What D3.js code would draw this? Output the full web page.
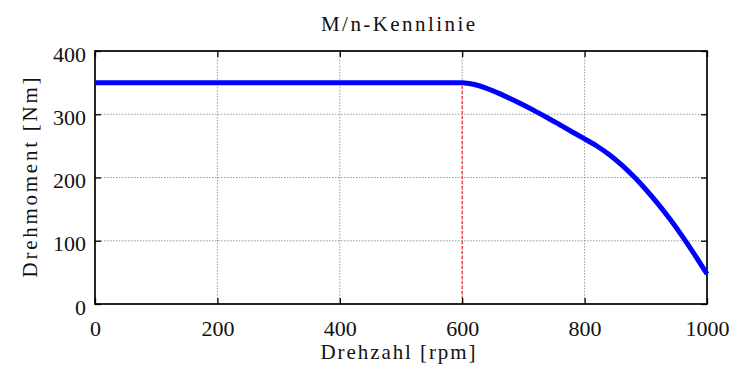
<!DOCTYPE html>
<html><head><meta charset="utf-8">
<script src="https://cdn.jsdelivr.net/npm/d3@7"></script>
<style>body{margin:0;background:#fff}</style>
</head><body>
<svg id="c" width="733" height="374"></svg>
<script>
const rpm    = [0, 600, 620, 640, 660, 680, 700, 720, 740, 760, 780, 800, 820, 840, 860, 880, 900, 920, 940, 960, 980, 1000];
const torque = [350, 350, 347, 341, 333, 324, 314.5, 304.5, 294, 283, 272, 261, 249.8, 236.2, 220.2, 201.8, 181, 158.2, 133.4, 106.6, 77.8, 47.4];
const xTicks = [0, 200, 400, 600, 800, 1000];
const yTicks = [0, 100, 200, 300, 400];
const cornerRpm = 600, cornerTorque = 350;
const title = "M/n-Kennlinie", xLabel = "Drehzahl [rpm]", yLabel = "Drehmoment [Nm]";

const FONT = "Liberation Serif, DejaVu Serif, serif";
const svg = d3.select("#c");
const L = 95, R = 707, T = 51, B = 304;
const x = d3.scaleLinear().domain([0, 1000]).range([L, R]);
const y = d3.scaleLinear().domain([0, 400]).range([B, T]);

// grid
svg.append("g").selectAll("line").data(xTicks.slice(1, -1)).join("line")
  .attr("x1", d => x(d)).attr("x2", d => x(d)).attr("y1", T).attr("y2", B)
  .attr("stroke", "#808080").attr("stroke-width", 0.8).attr("stroke-dasharray", "1.5,1.5");
svg.append("g").selectAll("line").data(yTicks.slice(1, -1)).join("line")
  .attr("y1", d => y(d)).attr("y2", d => y(d)).attr("x1", L).attr("x2", R)
  .attr("stroke", "#808080").attr("stroke-width", 0.8).attr("stroke-dasharray", "1.5,1.5");

// red dashed corner line
svg.append("line").attr("x1", x(cornerRpm)).attr("x2", x(cornerRpm))
  .attr("y1", y(0)).attr("y2", y(cornerTorque))
  .attr("stroke", "#ff0000").attr("stroke-width", 1).attr("stroke-dasharray", "3,2");

// axes
const tl = 6;
const fmt = d3.format("d");
const ax1 = svg.append("g").attr("transform", `translate(0,${B})`)
  .call(d3.axisBottom(x).tickValues(xTicks).tickFormat(fmt).tickSizeInner(-tl).tickSizeOuter(0));
ax1.selectAll(".tick text").attr("y", 32).attr("dy", null);
const ax2 = svg.append("g").attr("transform", `translate(0,${T})`)
  .call(d3.axisTop(x).tickValues(xTicks).tickSizeInner(-tl).tickSizeOuter(0).tickFormat(""));
const ax3 = svg.append("g").attr("transform", `translate(${L},0)`)
  .call(d3.axisLeft(y).tickValues(yTicks).tickFormat(fmt).tickSizeInner(-tl).tickSizeOuter(0));
ax3.selectAll(".tick text").attr("x", -9).attr("dy", 10);
const ax4 = svg.append("g").attr("transform", `translate(${R},0)`)
  .call(d3.axisRight(y).tickValues(yTicks).tickSizeInner(-tl).tickSizeOuter(0).tickFormat(""));
[ax1, ax2, ax3, ax4].forEach(a => {
  a.attr("font-family", null).attr("font-size", null);
  a.select(".domain").remove();
  a.selectAll(".tick line").attr("stroke", "#000").attr("stroke-width", 1.3);
  a.selectAll(".tick text").attr("fill", "#111")
    .style("font-family", FONT).style("font-size", "22px");
});

svg.append("rect").attr("x", L).attr("y", T).attr("width", R - L).attr("height", B - T)
  .attr("fill", "none").attr("stroke", "#000").attr("stroke-width", 1.7);

// curve
const line = d3.line().x((d, i) => x(rpm[i])).y((d, i) => y(torque[i])).curve(d3.curveMonotoneX);
svg.append("path").datum(torque).attr("d", line)
  .attr("fill", "none").attr("stroke", "#0000ff").attr("stroke-width", 5).attr("stroke-linejoin", "round");

// labels
const lab = (t) => svg.append("text").style("font-family", FONT).style("font-size", "21px")
  .attr("fill", "#111").attr("text-anchor", "middle").attr("lengthAdjust", "spacing").text(t);
lab(title).attr("x", 398).attr("y", 31).attr("textLength", 154);
lab(xLabel).attr("x", 398).attr("y", 359).attr("textLength", 155);
lab(yLabel).attr("transform", `translate(37,${(T + B) / 2}) rotate(-90)`).attr("textLength", 200);
</script>
</body></html>
